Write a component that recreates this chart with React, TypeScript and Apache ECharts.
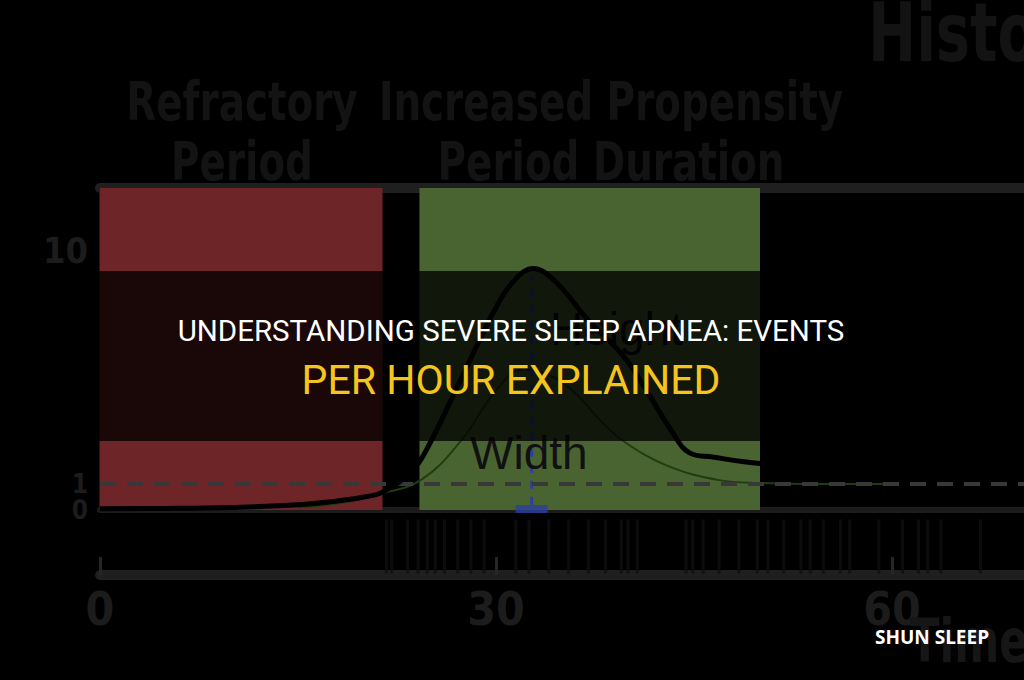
import React, { useEffect, useRef } from "react";
import * as echarts from "echarts";

// ---- data ----
const xTicks = [0, 30, 60];
const yLabelValues = [0, 1, 10];
const refractoryRange = [0, 21.4];
const propensityRange = [24.2, 50];
const thresholdLevel = 1;

const meanX = [0, 5, 10, 15, 18, 20, 21.4, 23.7, 25, 27.5, 30, 31.5, 32.8, 34.5, 37, 39.9, 43.4, 44.7, 46.4, 49.8, 55, 60, 65, 70];
const meanY = [0.05, 0.06, 0.1, 0.2, 0.35, 0.5, 0.69, 1.54, 2.58, 5.2, 7.8, 8.9, 9.3, 8.8, 7.3, 5.77, 2.96, 2.19, 2.04, 1.8, 1.6, 1.45, 1.3, 1.2];

const thinX = [15, 18, 21, 24.3, 27.4, 30, 32, 34, 36, 38, 39.8, 43, 46.9, 50, 55, 60];
const thinY = [0.1, 0.25, 0.6, 1.15, 2.7, 4.6, 5.4, 5.2, 4.5, 3.4, 2.6, 1.7, 1.15, 1.04, 1.0, 1.0];

const spikeTimes = [21.7, 22.1, 23.3, 24.1, 24.8, 25.4, 26.1, 27.1, 28.1, 29.1, 31.5, 32.5, 34.0, 35.5, 37.0, 38.3, 39.5, 40.0, 40.7, 44.4, 44.9, 45.7, 46.9, 48.4, 49.8, 50.6, 51.8, 53.1, 53.8, 54.8, 56.1, 56.8, 59.0, 60.8, 62.0, 62.7, 63.7, 66.7];

const peakTime = 32.7;
const peakHeight = 9.0;

const NARROW = "'DejaVu Sans Condensed', 'DejaVu Sans', sans-serif";

export default function App() {
  const ref = useRef<HTMLDivElement>(null);
  useEffect(() => {
    document.body.style.margin = "0";
    document.body.style.background = "#000";
    const chart = echarts.init(ref.current!, null, { renderer: "svg" });
    const faint = "#1c1c1c";
    const header = "#131313";
    chart.setOption({
      animation: false,
      backgroundColor: "#000",
      grid: [
        { left: 100, right: 0, top: 188, bottom: 170 },
        { left: 100, right: 0, top: 518, bottom: 105 },
      ],
      xAxis: [
        {
          type: "value", gridIndex: 0, min: 0, max: 70,
          axisLine: { show: true, lineStyle: { color: "#1c1c1c", width: 6 } },
          axisTick: { show: false }, axisLabel: { show: false }, splitLine: { show: false },
        },
        {
          type: "value", gridIndex: 0, min: 0, max: 70, position: "top",
          axisLine: { show: true, lineStyle: { color: "#1f1f1f", width: 10 } },
          axisTick: { show: false }, axisLabel: { show: false }, splitLine: { show: false },
        },
        {
          type: "value", gridIndex: 1, min: 0, max: 70, interval: 30,
          axisLine: { show: true, lineStyle: { color: "#1f1f1f", width: 10 } },
          axisTick: { show: true, inside: true, length: 18, lineStyle: { color: "#262626", width: 3 } },
          axisLabel: {
            show: true, margin: 11, color: faint, fontSize: 46, fontWeight: "bold",
            fontFamily: NARROW, showMaxLabel: false,
            formatter: (v: number) => (xTicks.includes(v) ? String(v) : ""),
          },
          splitLine: { show: false },
        },
      ],
      yAxis: [
        {
          type: "value", gridIndex: 0, min: 0, max: 12.4, interval: 1,
          axisLine: { show: true, lineStyle: { color: "#1c1c1c", width: 3 } },
          axisTick: { show: false }, splitLine: { show: false },
          axisLabel: {
            margin: 12, showMaxLabel: false, showMinLabel: null,
            formatter: (v: number) =>
              yLabelValues.includes(v) ? (v === 10 ? "{a|10}" : "{b|" + v + "}") : "",
            rich: {
              a: { fontSize: 36, fontWeight: "bold", color: faint, fontFamily: NARROW },
              b: { fontSize: 26, lineHeight: 20, fontWeight: "bold", color: faint, fontFamily: NARROW },
            },
          },
        },
        {
          type: "value", gridIndex: 1, min: 0, max: 1, show: false,
        },
      ],
      series: [
        {
          type: "line", xAxisIndex: 0, yAxisIndex: 0, symbol: "none", smooth: 0.4,
          data: thinX.map((x, i) => [x, thinY[i]]),
          lineStyle: { color: "#1f3d12", width: 2 }, z: 3,
          markArea: {
            silent: true,
            data: [
              [{ xAxis: refractoryRange[0], itemStyle: { color: "#6d2528" } }, { xAxis: refractoryRange[1] }],
              [{ xAxis: propensityRange[0], itemStyle: { color: "#4a6431" } }, { xAxis: propensityRange[1] }],
            ],
          },
          markLine: {
            silent: true, symbol: "none", label: { show: false },
            lineStyle: { color: "#383838", width: 4, type: [16, 11] },
            data: [{ yAxis: thresholdLevel }],
          },
        },
        {
          type: "line", xAxisIndex: 0, yAxisIndex: 0, symbol: "none",
          data: [[peakTime, 0.2], [peakTime, peakHeight]],
          lineStyle: { color: "#2b3f9e", width: 3, type: [8, 8] }, z: 4,
        },
        {
          type: "scatter", xAxisIndex: 0, yAxisIndex: 0, symbol: "rect", symbolSize: [32, 8],
          data: [[peakTime, 0.04]], itemStyle: { color: "#2b3f9e" }, z: 4,
        },
        {
          type: "line", xAxisIndex: 0, yAxisIndex: 0, symbol: "none", smooth: 0.4,
          data: meanX.map((x, i) => [x, meanY[i]]),
          lineStyle: { color: "#000", width: 5 }, z: 5,
        },
        {
          type: "scatter", xAxisIndex: 2, yAxisIndex: 1, symbol: "rect", symbolSize: [3, 54],
          data: spikeTimes.map((t) => [t, 0.5]),
          itemStyle: { color: "#0f0f0f" },
        },
      ],
      graphic: [
        { type: "text", left: 550, top: 306, z: 10, style: { text: "Height", fontSize: 46, fill: "#0a0a0a", fontFamily: "'Liberation Sans', Arial, sans-serif" } },
        { type: "text", left: 470, top: 430, z: 10, style: { text: "Width", fontSize: 46, fill: "#111", fontFamily: "'Liberation Sans', Arial, sans-serif" } },
        { type: "text", x: 242, y: 72, scaleX: 0.8, z: 10, style: { text: "Refractory\nPeriod", fontSize: 54, lineHeight: 60, fontWeight: "bold", fill: header, align: "center", fontFamily: NARROW } },
        { type: "text", x: 611, y: 72, scaleX: 0.8, z: 10, style: { text: "Increased Propensity\nPeriod Duration", fontSize: 54, lineHeight: 60, fontWeight: "bold", fill: header, align: "center", fontFamily: NARROW } },
        { type: "text", x: 868, y: -8, scaleX: 0.78, z: 10, style: { text: "Histogram", fontSize: 82, fontWeight: "bold", fill: header, fontFamily: NARROW } },
        { type: "text", x: 910, y: 612, scaleX: 0.8, z: 10, style: { text: "Time (ms)", fontSize: 60, fontWeight: "bold", fill: "#161616", fontFamily: NARROW } },
        { type: "rect", z: 50, shape: { x: 0, y: 271, width: 1024, height: 170 }, style: { fill: "rgba(0,0,0,0.76)" } },
        { type: "text", x: 511, y: 316, z: 60, style: { text: "UNDERSTANDING SEVERE SLEEP APNEA: EVENTS", fontSize: 29.5, fill: "#ffffff", align: "center", fontFamily: "Roboto, sans-serif" } },
        { type: "text", x: 511, y: 359, z: 60, style: { text: "PER HOUR EXPLAINED", fontSize: 41, fill: "#f5c51c", align: "center", fontFamily: "Roboto, sans-serif" } },
        { type: "text", x: 932, y: 627, z: 60, style: { text: "SHUN SLEEP", fontSize: 19, fontWeight: "bold", fill: "#ffffff", align: "center", fontFamily: "'Open Sans', sans-serif" } },
      ],
    });
    return () => chart.dispose();
  }, []);
  return (
    <div
      ref={ref}
      style={{ position: "fixed", left: 0, top: 0, width: 1024, height: 680, background: "#000" }}
    />
  );
}
